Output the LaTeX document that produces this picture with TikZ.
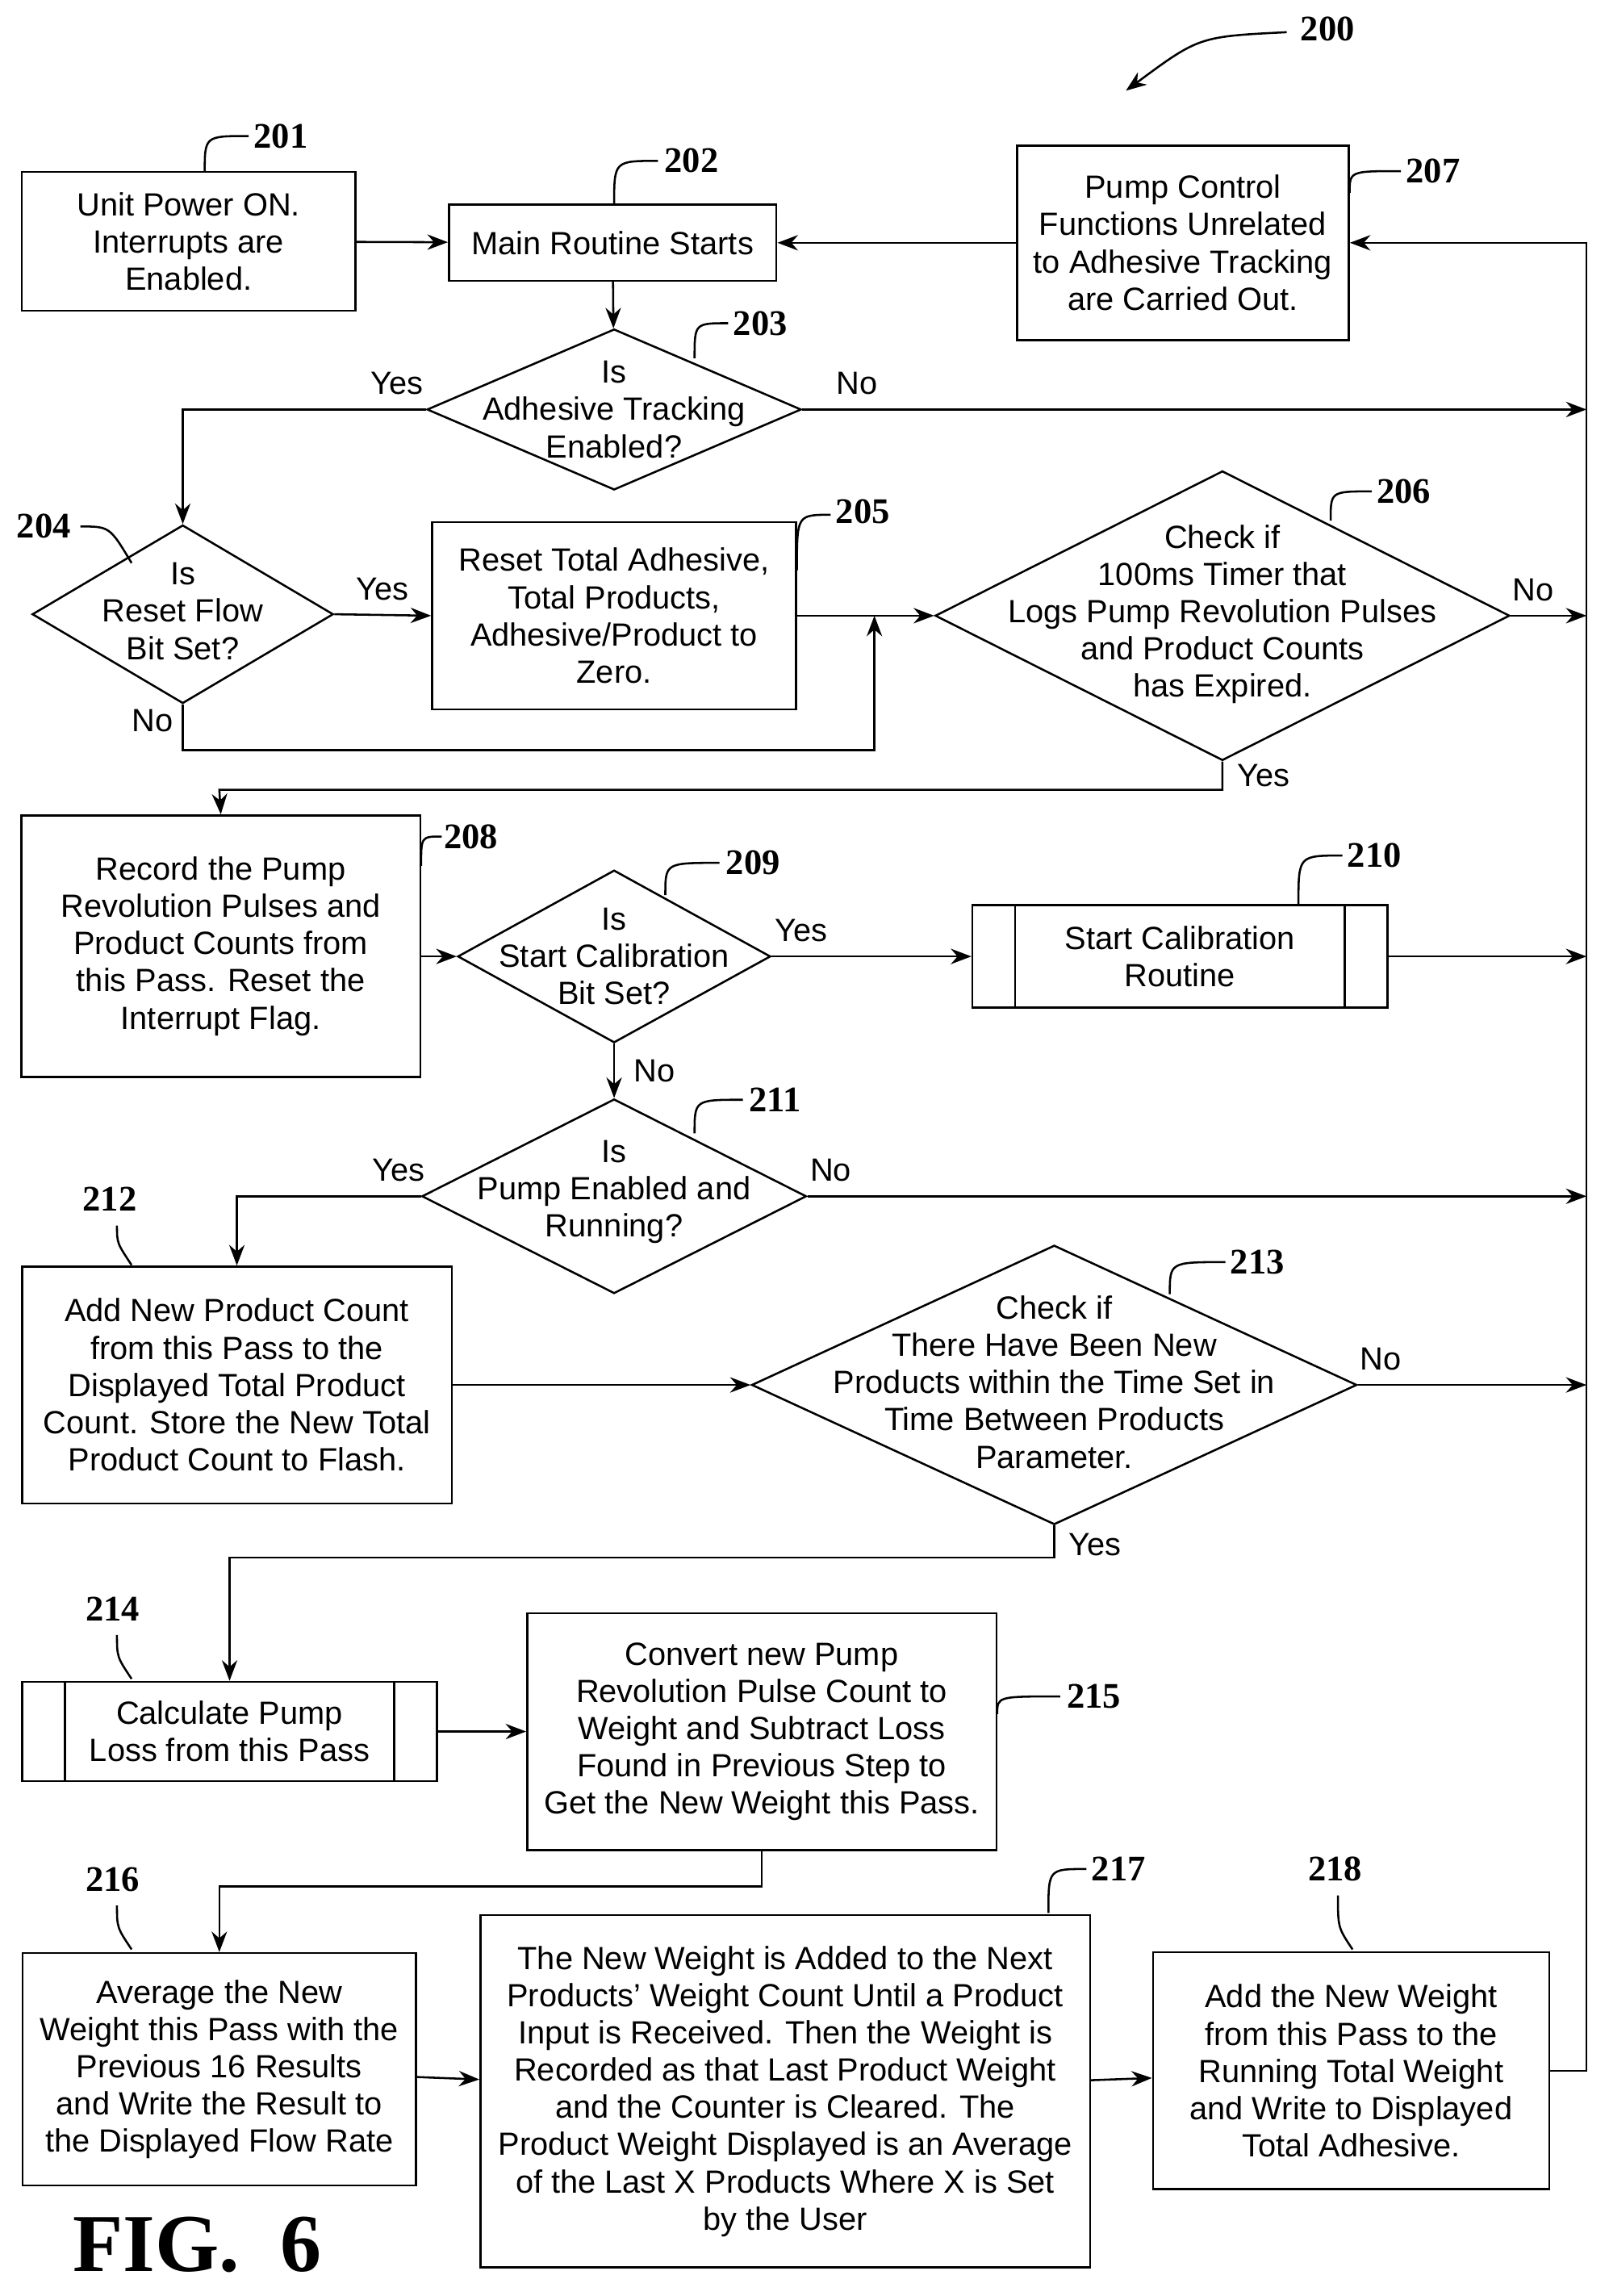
\documentclass[tikz,border=0pt]{standalone}
\usepackage{fontspec}
\setmainfont{Liberation Sans}
\newfontfamily\reffont{Liberation Serif}
\usetikzlibrary{arrows.meta, shapes.geometric}
\begin{document}
\begin{tikzpicture}[
    x=0.02cm, y=-0.02cm,
    >={Stealth[length=8pt,width=6pt]},
    every node/.style={font=\fontsize{12.5}{14.5}\selectfont},
    box/.style={rectangle, draw=black, thick, align=center, inner sep=2pt},
    dia/.style={diamond, draw=black, thick, inner sep=0pt},
    pred/.style={rectangle, draw=black, thick, align=center},
    txt/.style={align=center, inner sep=0pt},
    flow/.style={->, thick},
    ref/.style={font=\reffont\bfseries\fontsize{14}{16}\selectfont},
    lead/.style={thick}
  ]
  \useasboundingbox (0,0) rectangle (1100,1570);

  % boxes
  \node (n201) [box, minimum width=4.56cm, minimum height=1.9cm] at (129,165) {Unit Power ON.\\Interrupts are\\Enabled.};
  \node (n202) [box, minimum width=4.48cm, minimum height=1.04cm] at (419,166) {Main Routine Starts};
  \node (n207) [box, minimum width=4.54cm, minimum height=2.66cm] at (809,166) {Pump Control\\Functions Unrelated\\to Adhesive Tracking\\are Carried Out.};
  \node (n203) [dia, minimum width=5.12cm, minimum height=2.2cm] at (420,280) {};
  \node [txt] at (420,280) {Is\\Adhesive Tracking\\Enabled?};
  \node (n204) [dia, minimum width=4.12cm, minimum height=2.44cm] at (125,420) {};
  \node [txt] at (125,418) {Is\\Reset Flow\\Bit Set?};
  \node (n205) [box, minimum width=4.98cm, minimum height=2.56cm] at (420,421) {Reset Total Adhesive,\\Total Products,\\Adhesive/Product to\\Zero.};
  \node (n206) [dia, minimum width=7.86cm, minimum height=3.96cm] at (836,421) {};
  \node [txt] at (836,420) {Check if\\100ms Timer that\\Logs Pump Revolution Pulses\\and Product Counts\\has Expired.};
  \node (n208) [box, minimum width=5.46cm, minimum height=3.58cm] at (151,647) {Record the Pump\\Revolution Pulses and\\Product Counts from\\this Pass. Reset the\\Interrupt Flag.};
  \node (n209) [dia, minimum width=4.28cm, minimum height=2.36cm] at (420,654) {};
  \node [txt] at (420,654) {Is\\Start Calibration\\Bit Set?};
  \node (n210) [pred, minimum width=5.68cm, minimum height=1.4cm] at (807,654) {Start Calibration\\Routine};
  \node (n211) [dia, minimum width=5.26cm, minimum height=2.66cm] at (420,818) {};
  \node [txt] at (420,815) {Is\\Pump Enabled and\\Running?};
  \node (n212) [box, minimum width=5.88cm, minimum height=3.24cm] at (162,947) {Add New Product Count\\from this Pass to the\\Displayed Total Product\\Count. Store the New Total\\Product Count to Flash.};
  \node (n213) [dia, minimum width=8.28cm, minimum height=3.82cm] at (721,947) {};
  \node [txt] at (721,945) {Check if\\There Have Been New\\Products within the Time Set in\\Time Between Products\\Parameter.};
  \node (n214) [pred, minimum width=5.68cm, minimum height=1.36cm] at (157,1184) {Calculate Pump\\Loss from this Pass};
  \node (n215) [box, minimum width=6.42cm, minimum height=3.24cm] at (521,1184) {Convert new Pump\\Revolution Pulse Count to\\Weight and Subtract Loss\\Found in Previous Step to\\Get the New Weight this Pass.};
  \node (n216) [box, minimum width=5.38cm, minimum height=3.18cm] at (150,1415) {Average the New\\Weight this Pass with the\\Previous 16 Results\\and Write the Result to\\the Displayed Flow Rate};
  \node (n217) [box, minimum width=8.34cm, minimum height=4.82cm] at (537,1430) {The New Weight is Added to the Next\\Products' Weight Count Until a Product\\Input is Received. Then the Weight is\\Recorded as that Last Product Weight\\and the Counter is Cleared. The\\Product Weight Displayed is an Average\\of the Last X Products Where X is Set\\by the User};
  \node (n218) [box, minimum width=5.42cm, minimum height=3.24cm] at (924,1416) {Add the New Weight\\from this Pass to the\\Running Total Weight\\and Write to Displayed\\Total Adhesive.};

  % predefined process side bars
  \foreach \p in {n210, n214} {
    \draw[thick] ([xshift=0.6cm]\p.north west) -- ([xshift=0.6cm]\p.south west);
    \draw[thick] ([xshift=-0.6cm]\p.north east) -- ([xshift=-0.6cm]\p.south east);
  }

  % return line
  \coordinate (rt) at (1085,166);
  \coordinate (rb) at (1085,1416);
  \coordinate (mrg) at (598,421);

  \draw[flow] (n201) -- (n202);
  \draw[flow] (n207) -- (n202);
  \draw[flow] (n218.east) -- (rb) -- (rt) -- (n207.east);
  \draw[flow] (n202) -- (n203);
  \draw[flow] (n203.west) -- node[pos=0.12, above, yshift=2pt]{Yes} (n203.west -| n204.north) -- (n204.north);
  \draw[flow] (n203.east) -- node[pos=0.07, above, yshift=2pt]{No} (n203.east -| rt);
  \draw[flow] (n204.east) -- node[above, yshift=2pt]{Yes} (n205.west);
  \draw[flow] (n204.south) -- node[pos=0.35, left]{No} (125,513) -- (598,513) -- (mrg);
  \draw[flow] (n205.east) -- (n206.west);
  \draw[flow] (n206.east) -- node[pos=0.3, above, yshift=2pt]{No} (n206.east -| rt);
  \draw[flow] (n206.south) -- node[pos=0.5, right, xshift=2pt]{Yes} (836,540) -- (150,540) -- (n208.north);
  \draw[flow] (n208.east |- n209.west) -- (n209.west);
  \draw[flow] (n209.east) -- node[above, yshift=2pt, pos=0.15]{Yes} (n210.west);
  \draw[flow] (n210.east) -- (n210.east -| rt);
  \draw[flow] (n209.south) -- node[right, xshift=4pt]{No} (n211.north);
  \draw[flow] (n211.west) -- node[pos=0.12, above, yshift=2pt]{Yes} (n211.west -| n212.north) -- (n212.north);
  \draw[flow] (n211.east) -- node[pos=0.03, above, yshift=2pt]{No} (n211.east -| rt);
  \draw[flow] (n212) -- (n213);
  \draw[flow] (n213.east) -- node[pos=0.1, above, yshift=2pt]{No} (n213.east -| rt);
  \draw[flow] (n213.south) -- node[pos=0.6, right, xshift=2pt]{Yes} (721,1065) -- (157,1065) -- (n214.north);
  \draw[flow] (n214) -- (n215);
  \draw[flow] (n215.south) -- (521,1290) -- (150,1290) -- (n216.north);
  \draw[flow] (n216) -- (n217);
  \draw[flow] (n217) -- (n218);

  % reference numerals
  \foreach \num/\lx/\ly/\ax/\ay/\bx/\by in {
      201/192/93/140/118/170/93, 202/473/110/420/140/450/110,
      203/520/221/475/245/498/221, 206/960/336/910/356/938/336,
      207/980/117/923/132/958/117, 208/322/572/288/592/302/572,
      209/515/590/455/612/492/590, 210/940/585/888/618/918/585,
      211/530/752/475/775/508/752, 213/860/863/800/885/838/863,
      215/748/1160/682/1172/725/1160, 217/765/1278/717/1308/743/1278,
      205/590/350/545/390/568/352} {
    \node (r\num) [ref] at (\lx,\ly) {\num};
    \draw[lead] (\ax,\ay) .. controls (\ax,\by) .. (\bx,\by);
  }
  \foreach \num/\lx/\ly/\ax/\ay/\bx/\by in {
      212/75/820/90/865/80/838, 214/77/1100/90/1148/80/1118,
      216/77/1285/90/1333/80/1303, 218/913/1278/925/1333/915/1296} {
    \node (r\num) [ref] at (\lx,\ly) {\num};
    \draw[lead] (\ax,\ay) .. controls (\bx,\ay-15) .. (\bx,\by);
  }
  \node (r204) [ref] at (30,360) {204};
  \draw[lead] (55,360) .. controls (75,360) .. (90,385);
  \node (r200) [ref] at (908,20) {200};
  \draw[thick, ->] (880,22) .. controls (820,25) .. (770,62);

  \node (fig) [font=\reffont\bfseries\fontsize{32}{34}\selectfont] at (135,1535) {FIG.\ \ 6};
\end{tikzpicture}
\end{document}
